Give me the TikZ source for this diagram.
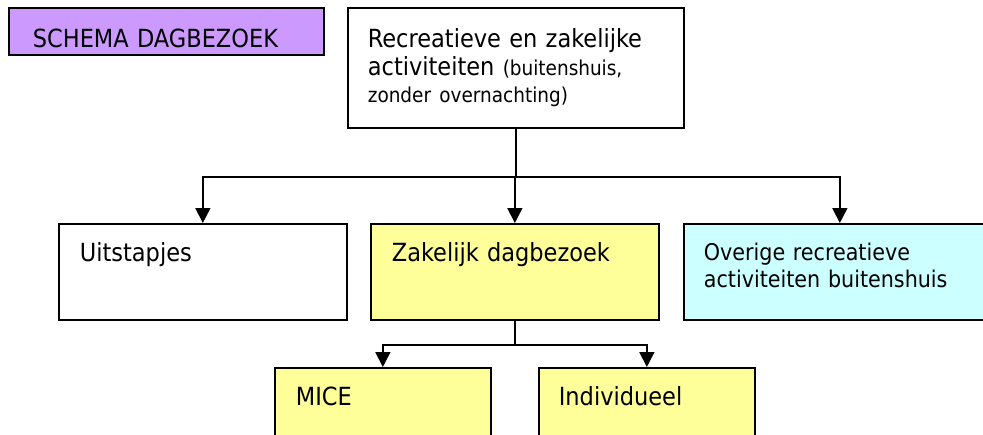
\documentclass[tikz,border=0pt]{standalone}
\usepackage{fontspec}
\setmainfont{DejaVu Sans Condensed}
\usetikzlibrary{arrows.meta,positioning}
\usetikzlibrary{calc}

\definecolor{lila}{HTML}{CC99FF}
\definecolor{geel}{HTML}{FFFF99}
\definecolor{lichtblauw}{HTML}{CCFFFF}

\begin{document}
\begin{tikzpicture}[
      x=1pt,y=-1pt,
      mybox/.style={
         draw=black,
         line width=1.7pt,
         anchor=north west,
         inner xsep=20pt,
         inner ysep=0pt,
         align=left,
         text height=38pt,
         text depth=58pt,
         font=\fontsize{25}{28}\selectfont},
      myarrow/.style={line width=1.7pt,-{Triangle[width=15pt,length=15pt]}}
      ]
      \useasboundingbox (0,0) rectangle (983,434);
      \clip (0,0) rectangle (983,434);

      \node[mybox,fill=lila,inner xsep=24pt,text width=267pt,text height=40pt,text depth=7pt] (titel) at (8,7) {SCHEMA DAGBEZOEK};
      \node[mybox,fill=white,text width=296pt,text height=40pt,text depth=80pt] (top) at (347,7)
         {Recreatieve en zakelijke\\activiteiten {\fontsize{20.5}{27}\selectfont (buitenshuis,}\\[-1pt]{\fontsize{20.5}{27}\selectfont zonder overnachting)}};

      \node[mybox,fill=white,inner xsep=21pt,text width=246pt] (uit) at (58,223) {Uitstapjes};
      \node[mybox,fill=geel,inner xsep=21pt,text width=246pt] (zak) at (370,223) {Zakelijk dagbezoek};
      \node[mybox,fill=lichtblauw,text width=272pt,text height=37pt,text depth=59pt,
            font=\fontsize{23}{27}\selectfont] (ove) at (683,223) {Overige recreatieve\\activiteiten buitenshuis};

      \node[mybox,fill=geel,inner xsep=21pt,text width=174pt] (mice) at (274,367) {MICE};
      \node[mybox,fill=geel,inner xsep=20pt,text width=176pt] (ind) at (538,367) {Individueel};

    \foreach \van/\naar/\d in {% start node/end node/drop
      top/uit/48,
      top/zak/48,
      top/ove/48,
      zak/mice/24,
      zak/ind/24}
       \draw [myarrow] (\van.south) -- ++(0,\d) -| (\naar.north);

    \end{tikzpicture}
\end{document}
